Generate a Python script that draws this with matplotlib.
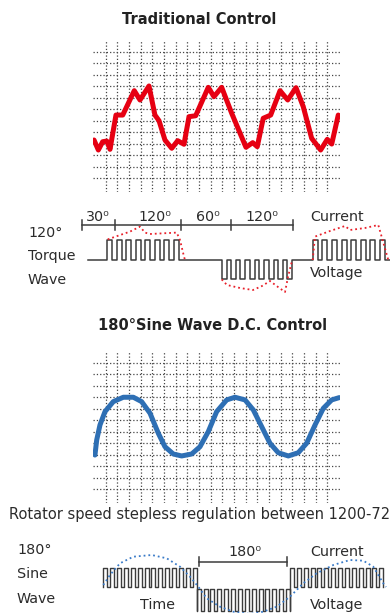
import matplotlib
matplotlib.use('Agg')
import matplotlib.pyplot as plt

plt.rcParams['font.family'] = ['DejaVu Sans']

# 传统控制 - 转矩波形 (grid units)
trad_x = [-1.0, -0.63, -0.26, 0.09, 0.37, 0.88, 1.46, 2.45, 2.94, 3.71, 4.22, 4.57,
          5.08, 5.66, 6.17, 6.71, 7.14, 7.71, 8.79, 9.28, 9.94, 10.8, 12.02, 12.6,
          12.99, 13.5, 14.14, 14.94, 15.6, 16.31, 16.93, 17.65, 18.42, 18.99, 19.37, 19.93]
trad_y = [3.33, 2.46, 3.18, 3.24, 2.52, 5.5, 5.5, 7.62, 6.81, 8.03, 5.5, 5.01,
          3.33, 2.61, 3.27, 2.96, 5.36, 5.44, 7.91, 7.1, 7.91, 5.65, 2.7, 3.1,
          2.75, 5.22, 5.5, 7.62, 6.81, 7.88, 6.23, 3.48, 2.46, 3.39, 2.98, 5.5]

# 正弦波控制 - 转矩波形
sine_x = [-0.92, -0.77, -0.49, -0.06, 0.65, 1.51, 2.37, 3.08, 3.8, 4.51, 5.08, 5.79,
          6.51, 7.37, 8.08, 8.79, 9.51, 10.37, 11.08, 11.94, 12.65, 13.37, 14.08,
          14.79, 15.65, 16.5, 17.22, 17.94, 18.65, 19.37, 20.02]
sine_y = [2.98, 4.29, 5.59, 6.75, 7.62, 8.0, 8.0, 7.62, 6.61, 4.87, 3.7, 3.07,
          2.9, 3.07, 3.7, 5.01, 6.75, 7.77, 8.0, 7.77, 6.9, 5.44, 4.0,
          3.18, 2.9, 3.18, 4.0, 5.59, 7.04, 7.77, 7.97]

# 120° 方波: (start, end, pulses, pulse level)
wave1_blocks = [(107.3, 179.0, 8, 1.0), (221.7, 292.3, 8, -0.97), (312.7, 385.0, 8, 1.0)]
wave1_span = (88.3, 390.0)
ruler1_ticks = [81.7, 115.0, 181.0, 231.3, 292.7]
ruler1_labels = ['30⁰', '120⁰', '60⁰', '120⁰']
ruler1_label_x = [98, 155, 208, 262]
cur1_x = [[107.7, 113.3, 130, 140, 145, 150, 176.7, 180, 184, 185],
          [221.7, 227, 240, 253, 262, 270, 278, 285, 288, 291.7],
          [312.7, 315, 330, 345, 350, 365, 378.3, 384, 388.3]]
cur1_y = [[1.03, 1.13, 1.42, 1.67, 1.37, 1.3, 1.37, 1.0, 0.17, 0.0],
          [-0.97, -1.25, -1.4, -1.5, -1.3, -1.05, -1.35, -1.6, -0.85, -0.1],
          [0.0, 1.17, 1.45, 1.7, 1.5, 1.6, 1.75, 0.75, 0.0]]

# 180° 正弦波: (start, end, pulses, rest level, pulse level)
wave2_blocks = [(103.3, 196.7, 14, 0.065, 1.015), (196.7, 290.0, 14, -1.135, -0.065),
                (290.0, 383.3, 14, 0.065, 1.015)]
ruler2_ticks = [199.3, 286.7]
cur2_x = [103.3, 110, 120, 133.3, 151.7, 166.7, 180, 190, 198.3, 206.7, 220, 233.3,
          250, 263.3, 276.7, 290, 303.3, 316.7, 333.3, 350, 363.3, 373.3, 383.3, 386]
cur2_y = [0.15, 0.65, 1.235, 1.565, 1.65, 1.485, 1.065, 0.565, 0.065, -0.515, -0.935,
          -1.185, -1.3, -1.185, -0.935, -0.435, 0.235, 0.735, 1.15, 1.4, 1.365, 1.065,
          0.235, 0.05]


def pulses(t0, t1, n, rest, level, width):
    p = (t1 - t0 - width) / (n - 1)
    xs, ys = [], []
    for k in range(n):
        s = t0 + k * p
        xs += [s, s, s + width, s + width]
        ys += [rest, level, level, rest]
    return xs, ys


def grid_axes(rect, ylim):
    ax = fig.add_axes(rect)
    ax.set_xlim(-1.063, 20.08)
    ax.set_ylim(*ylim)
    ax.set_xticks(range(20))
    ax.set_yticks(range(12))
    ax.grid(True, linestyle=':', color='#444444', linewidth=0.9)
    ax.tick_params(length=0, labelbottom=False, labelleft=False)
    for s in ax.spines.values():
        s.set_visible(False)
    return ax


fig = plt.figure(figsize=(3.9, 6.13), dpi=100)
txt = '#2b2b2b'
wire = '#3c3c3c'

# 上部网格
fig.text(199 / 390, 1 - 20 / 613, 'Traditional Control', ha='center', va='center',
         fontsize=10.5, fontweight='bold', color='#222222')
ax1 = grid_axes([0.2392, 0.6868, 0.6326, 0.2480], (-1.19, 12.03))
ax1.plot(trad_x, trad_y, color='#e60012', linewidth=3.6,
         solid_joinstyle='round', solid_capstyle='round')

# 中部网格
fig.text(213 / 390, 1 - 326 / 613, '180°Sine Wave D.C. Control', ha='center', va='center',
         fontsize=10.5, fontweight='bold', color='#222222')
ax2 = grid_axes([0.2392, 0.1794, 0.6326, 0.2471], (-1.19, 11.97))
ax2.plot(sine_x, sine_y, color='#2e6fb4', linewidth=3.6,
         solid_joinstyle='round', solid_capstyle='round')

fig.text(9 / 390, 1 - 514 / 613, 'Rotator speed stepless regulation between 1200-7200rpm',
         ha='left', va='center', fontsize=10.5, color=txt)

# 120° 方波示意
ax3 = fig.add_axes([0, 1 - 300 / 613, 1, 100 / 613])
ax3.set_xlim(0, 390)
ax3.set_ylim(-2, 3)
ax3.axis('off')
xs, ys = [wave1_span[0]], [0]
for t0, t1, n, lvl in wave1_blocks:
    bx, by = pulses(t0, t1, n, 0, lvl, 5.0)
    xs += bx
    ys += by
xs.append(wave1_span[1])
ys.append(0)
ax3.plot(xs, ys, color=wire, linewidth=1.1)
for cx, cy in zip(cur1_x, cur1_y):
    ax3.plot(cx, cy, color='#e8202a', linestyle=':', linewidth=1.3)
ax3.plot([ruler1_ticks[0], ruler1_ticks[-1]], [1.75, 1.75], color=wire, linewidth=1.1)
for t in ruler1_ticks:
    ax3.plot([t, t], [1.5, 2.0], color=wire, linewidth=1.1)
for lx, lab in zip(ruler1_label_x, ruler1_labels):
    ax3.text(lx, 2.15, lab, ha='center', va='center', fontsize=10.3, color=txt)
ax3.text(28, 1.33, '120°', ha='left', va='center', fontsize=10.3, color=txt)
ax3.text(28, 0.2, 'Torque', ha='left', va='center', fontsize=10.3, color=txt)
ax3.text(28, -1.0, 'Wave', ha='left', va='center', fontsize=10.3, color=txt)
ax3.text(310, 2.17, 'Current', ha='left', va='center', fontsize=10.3, color=txt)
ax3.text(310, -0.63, 'Voltage', ha='left', va='center', fontsize=10.3, color=txt)

# 180° 正弦波示意
ax4 = fig.add_axes([0, 0, 1, 83 / 613])
ax4.set_xlim(0, 390)
ax4.set_ylim(-1.25, 2.9)
ax4.axis('off')
xs, ys = [], []
for t0, t1, n, rest, lvl in wave2_blocks:
    bx, by = pulses(t0, t1, n, rest, lvl, 4.0)
    xs += bx
    ys += by
ax4.plot(xs, ys, color=wire, linewidth=1.0)
ax4.plot(cur2_x, cur2_y, color='#3a7bc8', linestyle=':', linewidth=1.3)
ax4.plot(ruler2_ticks, [1.315, 1.315], color=wire, linewidth=1.1)
for t in ruler2_ticks:
    ax4.plot([t, t], [1.09, 1.54], color=wire, linewidth=1.1)
ax4.text(245, 1.815, '180⁰', ha='center', va='center', fontsize=10.3, color=txt)
ax4.text(17, 1.9, '180°', ha='left', va='center', fontsize=10.3, color=txt)
ax4.text(17, 0.7, 'Sine', ha='left', va='center', fontsize=10.3, color=txt)
ax4.text(17, -0.55, 'Wave', ha='left', va='center', fontsize=10.3, color=txt)
ax4.text(140, -0.85, 'Time', ha='left', va='center', fontsize=10.3, color=txt)
ax4.text(310, 1.815, 'Current', ha='left', va='center', fontsize=10.3, color=txt)
ax4.text(310, -0.85, 'Voltage', ha='left', va='center', fontsize=10.3, color=txt)

fig.savefig('out.png', dpi=100)
